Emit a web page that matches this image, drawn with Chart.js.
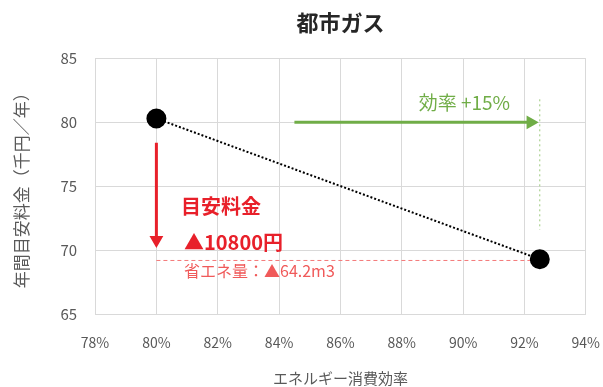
<!DOCTYPE html>
<html lang="ja">
<head>
  <meta charset="UTF-8">
  <title>都市ガス</title>
  <script src="https://cdn.jsdelivr.net/npm/chart.js"></script>
  <style>
    body {
      margin: 0;
      background: #fff;
    }
    #wrap {
      width: 603px;
      height: 387px;
    }
  </style>
</head>
<body>
  <div id="wrap"><canvas id="gasChart"></canvas></div>

  <script>
    // efficiency (%) vs annual cost (thousand yen / year)
    const efficiency = [80, 92.5];
    const annualCost = [80.3, 69.3];

    // guide lines and arrows
    const costArrowX = [80, 80];
    const costArrowY = [78.4, 70.8];
    const effArrowX = [84.5, 92.2];
    const effArrowY = [80, 80];
    const savingLineX = [80, 92.5];
    const savingLineY = [69.2, 69.2];
    const effGuideX = [92.5, 92.5];
    const effGuideY = [81.8, 71.6];

    // notes placed on the plot
    const noteTexts = ["効率 +15%", "目安料金", "▲10800円", "省エネ量：▲64.2m3"];
    const noteX = [88.55, 80.8, 80.9, 80.9];
    const noteY = [81.55, 73.4, 70.65, 68.35];

    const FONT = "'Noto Sans CJK JP', 'Noto Sans', sans-serif";
    const RED = "#e8202a";
    const GREEN = "#70ad47";

    const toXY = (xs, ys) => xs.map((x, i) => ({ x: x, y: ys[i] }));

    // draws the text notes at data coordinates
    const notesPlugin = {
      id: "notes",
      afterDatasetsDraw(chart) {
        const { ctx, scales } = chart;
        const styles = [
          { color: GREEN, font: "19px " + FONT },
          { color: RED, font: "bold 20px " + FONT },
          { color: RED, font: "bold 20px " + FONT },
          { color: "#f05a5a", font: "16px " + FONT },
        ];
        ctx.save();
        ctx.textAlign = "left";
        ctx.textBaseline = "middle";
        noteTexts.forEach((t, i) => {
          ctx.fillStyle = styles[i].color;
          ctx.font = styles[i].font;
          ctx.fillText(t, scales.x.getPixelForValue(noteX[i]), scales.y.getPixelForValue(noteY[i]));
        });
        ctx.restore();
      },
    };

    const ctx = document.getElementById("gasChart").getContext("2d");

    new Chart(ctx, {
      type: "scatter",
      data: {
        datasets: [
          {
            label: "都市ガス",
            data: toXY(efficiency, annualCost),
            showLine: true,
            borderColor: "#000",
            borderWidth: 2,
            borderDash: [2, 2],
            pointRadius: 9,
            pointBackgroundColor: "#000",
            pointBorderColor: "#000",
            order: 0,
          },
          {
            label: "saving",
            data: toXY(savingLineX, savingLineY),
            showLine: true,
            borderColor: "#f47a7a",
            borderWidth: 1,
            borderDash: [4, 3],
            pointRadius: 0,
            order: 3,
          },
          {
            label: "guide",
            data: toXY(effGuideX, effGuideY),
            showLine: true,
            borderColor: "#9cc97c",
            borderWidth: 1,
            borderDash: [2, 3],
            pointRadius: 0,
            order: 3,
          },
          {
            label: "cost arrow",
            data: toXY(costArrowX, costArrowY),
            showLine: true,
            borderColor: RED,
            borderWidth: 3,
            pointRadius: [0, 5],
            pointStyle: "triangle",
            rotation: 180,
            pointBackgroundColor: RED,
            pointBorderColor: RED,
            order: 2,
          },
          {
            label: "efficiency arrow",
            data: toXY(effArrowX, effArrowY),
            showLine: true,
            borderColor: GREEN,
            borderWidth: 3,
            pointRadius: [0, 5],
            pointStyle: "triangle",
            rotation: 90,
            pointBackgroundColor: GREEN,
            pointBorderColor: GREEN,
            order: 2,
          },
        ],
      },
      options: {
        responsive: true,
        maintainAspectRatio: false,
        animation: false,
        events: [],
        layout: {
          autoPadding: false,
          padding: { left: 7, right: 2, top: 3, bottom: 0 },
        },
        plugins: {
          legend: { display: false },
          tooltip: { enabled: false },
          title: {
            display: true,
            text: "都市ガス",
            fullSize: false,
            color: "#262626",
            font: { family: FONT, size: 22, weight: "bold" },
            padding: { top: 6, bottom: 23 },
          },
        },
        scales: {
          x: {
            type: "linear",
            min: 78,
            max: 94,
            ticks: {
              stepSize: 2,
              padding: 3,
              color: "#595959",
              font: { family: FONT, size: 14 },
              callback: (v) => v + "%",
            },
            // invisible tick marks push the labels down without widening the side padding
            grid: {
              color: "#d9d9d9",
              drawTicks: true,
              tickLength: 17,
              tickColor: "rgba(0,0,0,0)",
            },
            border: { color: "#d9d9d9" },
            title: {
              display: true,
              text: "エネルギー消費効率",
              color: "#595959",
              font: { family: FONT, size: 15 },
              padding: { top: 15, bottom: 0 },
            },
          },
          y: {
            min: 65,
            max: 85,
            ticks: {
              stepSize: 5,
              padding: 18,
              color: "#595959",
              font: { family: FONT, size: 15 },
            },
            grid: { color: "#d9d9d9", drawTicks: false },
            border: { color: "#d9d9d9" },
            title: {
              display: true,
              text: "年間目安料金（千円／年）",
              color: "#595959",
              font: { family: FONT, size: 17 },
              padding: { top: 4, bottom: 11 },
            },
          },
        },
      },
      plugins: [notesPlugin],
    });
  </script>
</body>
</html>
